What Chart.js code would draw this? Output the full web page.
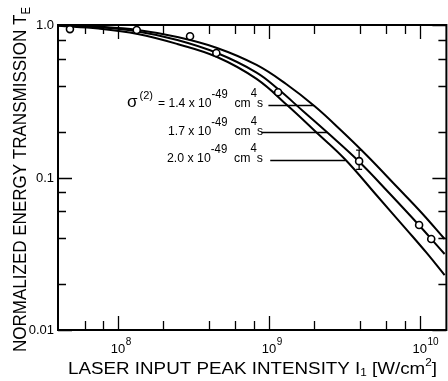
<!DOCTYPE html>
<html><head><meta charset="utf-8">
<script src="https://cdn.jsdelivr.net/npm/chart.js@4/dist/chart.umd.min.js"></script>
<style>
html,body{margin:0;padding:0;background:#fff;overflow:hidden;width:448px;height:381px}
#wrap{position:absolute;left:0;top:0;width:452px;height:381px}
</style>
</head><body><div id="wrap"><canvas id="c" width="452" height="381"></canvas></div>
<script>
// ---- data ----
const sigmaValues = ['1.4', '1.7', '2.0'];
const intensity14 = [4.04e7, 7.4e7, 1.35e8, 2.47e8, 4.53e8, 8.28e8, 1.30e9, 2.02e9, 2.94e9, 4.49e9, 7.07e9, 1.03e10, 1.46e10];
const trans14     = [0.999, 0.975, 0.927, 0.834, 0.707, 0.547, 0.410, 0.292, 0.208, 0.1384, 0.0866, 0.0585, 0.0395];
const intensity17 = [4.04e7, 7.4e7, 1.35e8, 2.47e8, 4.53e8, 8.28e8, 1.15e9, 1.68e9, 2.46e9, 3.98e9, 6.26e9, 9.85e9, 1.46e10];
const trans17     = [0.995, 0.966, 0.906, 0.797, 0.655, 0.488, 0.380, 0.273, 0.1957, 0.1264, 0.0791, 0.0488, 0.0315];
const intensity20 = [4.04e7, 7.4e7, 1.35e8, 2.47e8, 4.53e8, 8.28e8, 1.34e9, 2.05e9, 3.18e9, 5.22e9, 8.22e9, 1.11e10, 1.46e10];
const trans20     = [0.988, 0.948, 0.873, 0.751, 0.617, 0.443, 0.294, 0.1988, 0.1322, 0.0756, 0.0452, 0.0320, 0.0229];

const measuredI = [4.8e7, 1.33e8, 3.0e8, 4.48e8, 1.15e9, 3.96e9, 9.89e9, 1.19e10];
const measuredT = [0.94, 0.927, 0.843, 0.655, 0.362, 0.128, 0.0488, 0.0395];
const errorI    = [3.96e9];
const errorLow  = [0.113];
const errorHigh = [0.151];

const xMajorTicks = [1e8, 1e9, 1e10];
const xTickExponents = ['8', '9', '10'];
const xMinorTicks = [6e7, 8e7, 2e8, 4e8, 6e8, 8e8, 2e9, 4e9, 6e9, 8e9];
const yMajorTicks = [0.01, 0.1, 1];
const yTickLabels = ['0.01', '0.1', '1.0'];
const yMinorTicks = [0.02, 0.04, 0.06, 0.08, 0.2, 0.4, 0.6, 0.8];

// annotation leader lines (level T, start intensity)
const leaderT     = [0.2966, 0.1973, 0.1312];
const leaderFromI = [9.92e8, 8.93e8, 1.02e9];

const FONT = '"Liberation Sans", Arial, sans-serif';

function partsWidth(ctx, parts){
  let w = 0;
  for (const p of parts){ ctx.font = p.size + 'px ' + FONT; w += ctx.measureText(p.t).width; }
  return w;
}
function drawParts(ctx, parts, x, y){
  for (const p of parts){
    ctx.font = p.size + 'px ' + FONT;
    ctx.fillText(p.t, x, y + (p.dy || 0));
    x += ctx.measureText(p.t).width;
  }
}
function drawFit(ctx, parts, x0, x1, y){
  const w = partsWidth(ctx, parts);
  ctx.save();
  ctx.translate(x0, y);
  ctx.scale((x1 - x0) / w, 1);
  drawParts(ctx, parts, 0, 0);
  ctx.restore();
}
function curveXAt(xs, ys, t, sx, sy){
  const py = sy.getPixelForValue(t);
  for (let i = 0; i < xs.length - 1; i++){
    const y0 = sy.getPixelForValue(ys[i]), y1 = sy.getPixelForValue(ys[i+1]);
    if ((py - y0) * (py - y1) <= 0){
      const x0 = sx.getPixelForValue(xs[i]), x1 = sx.getPixelForValue(xs[i+1]);
      return x0 + (x1 - x0) * (py - y0) / (y1 - y0);
    }
  }
  return sx.getPixelForValue(xs[xs.length-1]);
}

const framePlugin = {
  id: 'frame',
  beforeDatasetsDraw(chart){
    const ctx = chart.ctx, sx = chart.scales.x, sy = chart.scales.y;
    ctx.save();
    ctx.strokeStyle = '#000'; ctx.lineWidth = 1.3;
    for (let i = 0; i < errorI.length; i++){
      const x = sx.getPixelForValue(errorI[i]);
      const yl = sy.getPixelForValue(errorLow[i]), yh = sy.getPixelForValue(errorHigh[i]);
      ctx.beginPath();
      ctx.moveTo(x, yl); ctx.lineTo(x, yh);
      ctx.moveTo(x - 3, yl); ctx.lineTo(x + 3, yl);
      ctx.moveTo(x - 3, yh); ctx.lineTo(x + 3, yh);
      ctx.stroke();
    }
    // leader lines
    const curves = [[intensity14, trans14], [intensity17, trans17], [intensity20, trans20]];
    ctx.lineWidth = 1.3;
    for (let i = 0; i < leaderT.length; i++){
      const y = Math.round(sy.getPixelForValue(leaderT[i])) + 0.5;
      const x0 = sx.getPixelForValue(leaderFromI[i]);
      const x1 = curveXAt(curves[i][0], curves[i][1], leaderT[i], sx, sy);
      ctx.beginPath(); ctx.moveTo(x0, y); ctx.lineTo(x1, y); ctx.stroke();
    }
    ctx.restore();
  },
  afterDatasetsDraw(chart){
    const ctx = chart.ctx, a = chart.chartArea, sx = chart.scales.x, sy = chart.scales.y;
    ctx.save();
    ctx.strokeStyle = '#000'; ctx.fillStyle = '#000';
    // frame
    ctx.lineWidth = 2;
    ctx.beginPath();
    ctx.moveTo(a.left, a.top); ctx.lineTo(a.right, a.top);
    ctx.lineTo(a.right, a.bottom); ctx.lineTo(a.left, a.bottom); ctx.closePath();
    ctx.stroke();
    // ticks
    ctx.lineWidth = 1.3;
    ctx.beginPath();
    const xt = (v, len) => { const x = Math.round(sx.getPixelForValue(v)) + 0.5;
      ctx.moveTo(x, a.bottom); ctx.lineTo(x, a.bottom - len);
      ctx.moveTo(x, a.top); ctx.lineTo(x, a.top + len); };
    const yt = (v, len) => { const y = Math.round(sy.getPixelForValue(v)) + 0.5;
      ctx.moveTo(a.left, y); ctx.lineTo(a.left + len, y);
      ctx.moveTo(a.right, y); ctx.lineTo(a.right - len, y); };
    xMajorTicks.forEach(v => xt(v, 14));
    xMinorTicks.forEach(v => xt(v, 9));
    yMajorTicks.forEach(v => yt(v, 14));
    yMinorTicks.forEach(v => yt(v, 8));
    ctx.stroke();
    // y tick labels
    ctx.textAlign = 'right'; ctx.textBaseline = 'middle';
    ctx.font = '13px ' + FONT;
    yMajorTicks.forEach((v, i) => ctx.fillText(yTickLabels[i], a.left - 4, sy.getPixelForValue(v) + 0.5));
    // x tick labels "10^n"
    ctx.textBaseline = 'alphabetic'; ctx.textAlign = 'left';
    xMajorTicks.forEach((v, i) => {
      const x = sx.getPixelForValue(v);
      ctx.font = '13px ' + FONT;
      const w = ctx.measureText('10').width;
      ctx.fillText('10', x - w / 2, 353);
      ctx.font = '10px ' + FONT;
      ctx.fillText(xTickExponents[i], x + w / 2 + 0.5, 345);
    });
    // x axis title
    drawFit(ctx, [
      {t: 'LASER INPUT PEAK INTENSITY I', size: 16},
      {t: '1', size: 10, dy: 2},
      {t: ' [W/cm', size: 16},
      {t: '2', size: 10, dy: -8},
      {t: ']', size: 16}
    ], 68, 437, 374);
    // y axis title
    ctx.save();
    ctx.translate(26, 352);
    ctx.rotate(-Math.PI / 2);
    drawFit(ctx, [
      {t: 'NORMALIZED ENERGY TRANSMISSION T', size: 18},
      {t: 'E', size: 12, dy: 4}
    ], 0, 345, 0);
    ctx.restore();
    // annotation: sigma(2)
    ctx.font = '17px ' + FONT;
    ctx.fillText('\u03c3', 127, 107);
    ctx.font = '11px ' + FONT;
    ctx.fillText('(2)', 139.5, 99);
    const starts = [158, 168, 167];
    const bases = [107, 135, 161.5];
    sigmaValues.forEach((s, i) => {
      drawFit(ctx, [
        {t: (i === 0 ? '= ' : '') + s + ' x 10', size: 13},
        {t: '-49', size: 12, dy: -9},
        {t: '  cm', size: 13},
        {t: '4', size: 12, dy: -10},
        {t: 's', size: 13}
      ], starts[i], 263, bases[i]);
    });
    ctx.restore();
  }
};

const toPts = (xs, ys) => xs.map((x, i) => ({x: x, y: ys[i]}));
const lineDs = (xs, ys) => ({
  data: toPts(xs, ys), showLine: true, borderColor: '#000', borderWidth: 2,
  pointRadius: 0, tension: 0.4, fill: false, order: 1
});

new Chart(document.getElementById('c'), {
  type: 'scatter',
  data: {
    datasets: [
      {data: toPts(measuredI, measuredT), showLine: false, pointRadius: 3.5, pointBorderWidth: 1.6,
       pointBorderColor: '#000', pointBackgroundColor: '#fff', order: 0},
      lineDs(intensity14, trans14),
      lineDs(intensity17, trans17),
      lineDs(intensity20, trans20)
    ]
  },
  options: {
    responsive: false, animation: false, devicePixelRatio: 1, events: [],
    layout: {padding: {left: 58, top: 25, right: 2, bottom: 51}},
    scales: {
      x: {type: 'logarithmic', min: 4e7, max: 1.5e10, display: false},
      y: {type: 'logarithmic', min: 0.01, max: 1, display: false}
    },
    plugins: {legend: {display: false}, tooltip: {enabled: false}}
  },
  plugins: [framePlugin]
});
</script>
</body></html>
